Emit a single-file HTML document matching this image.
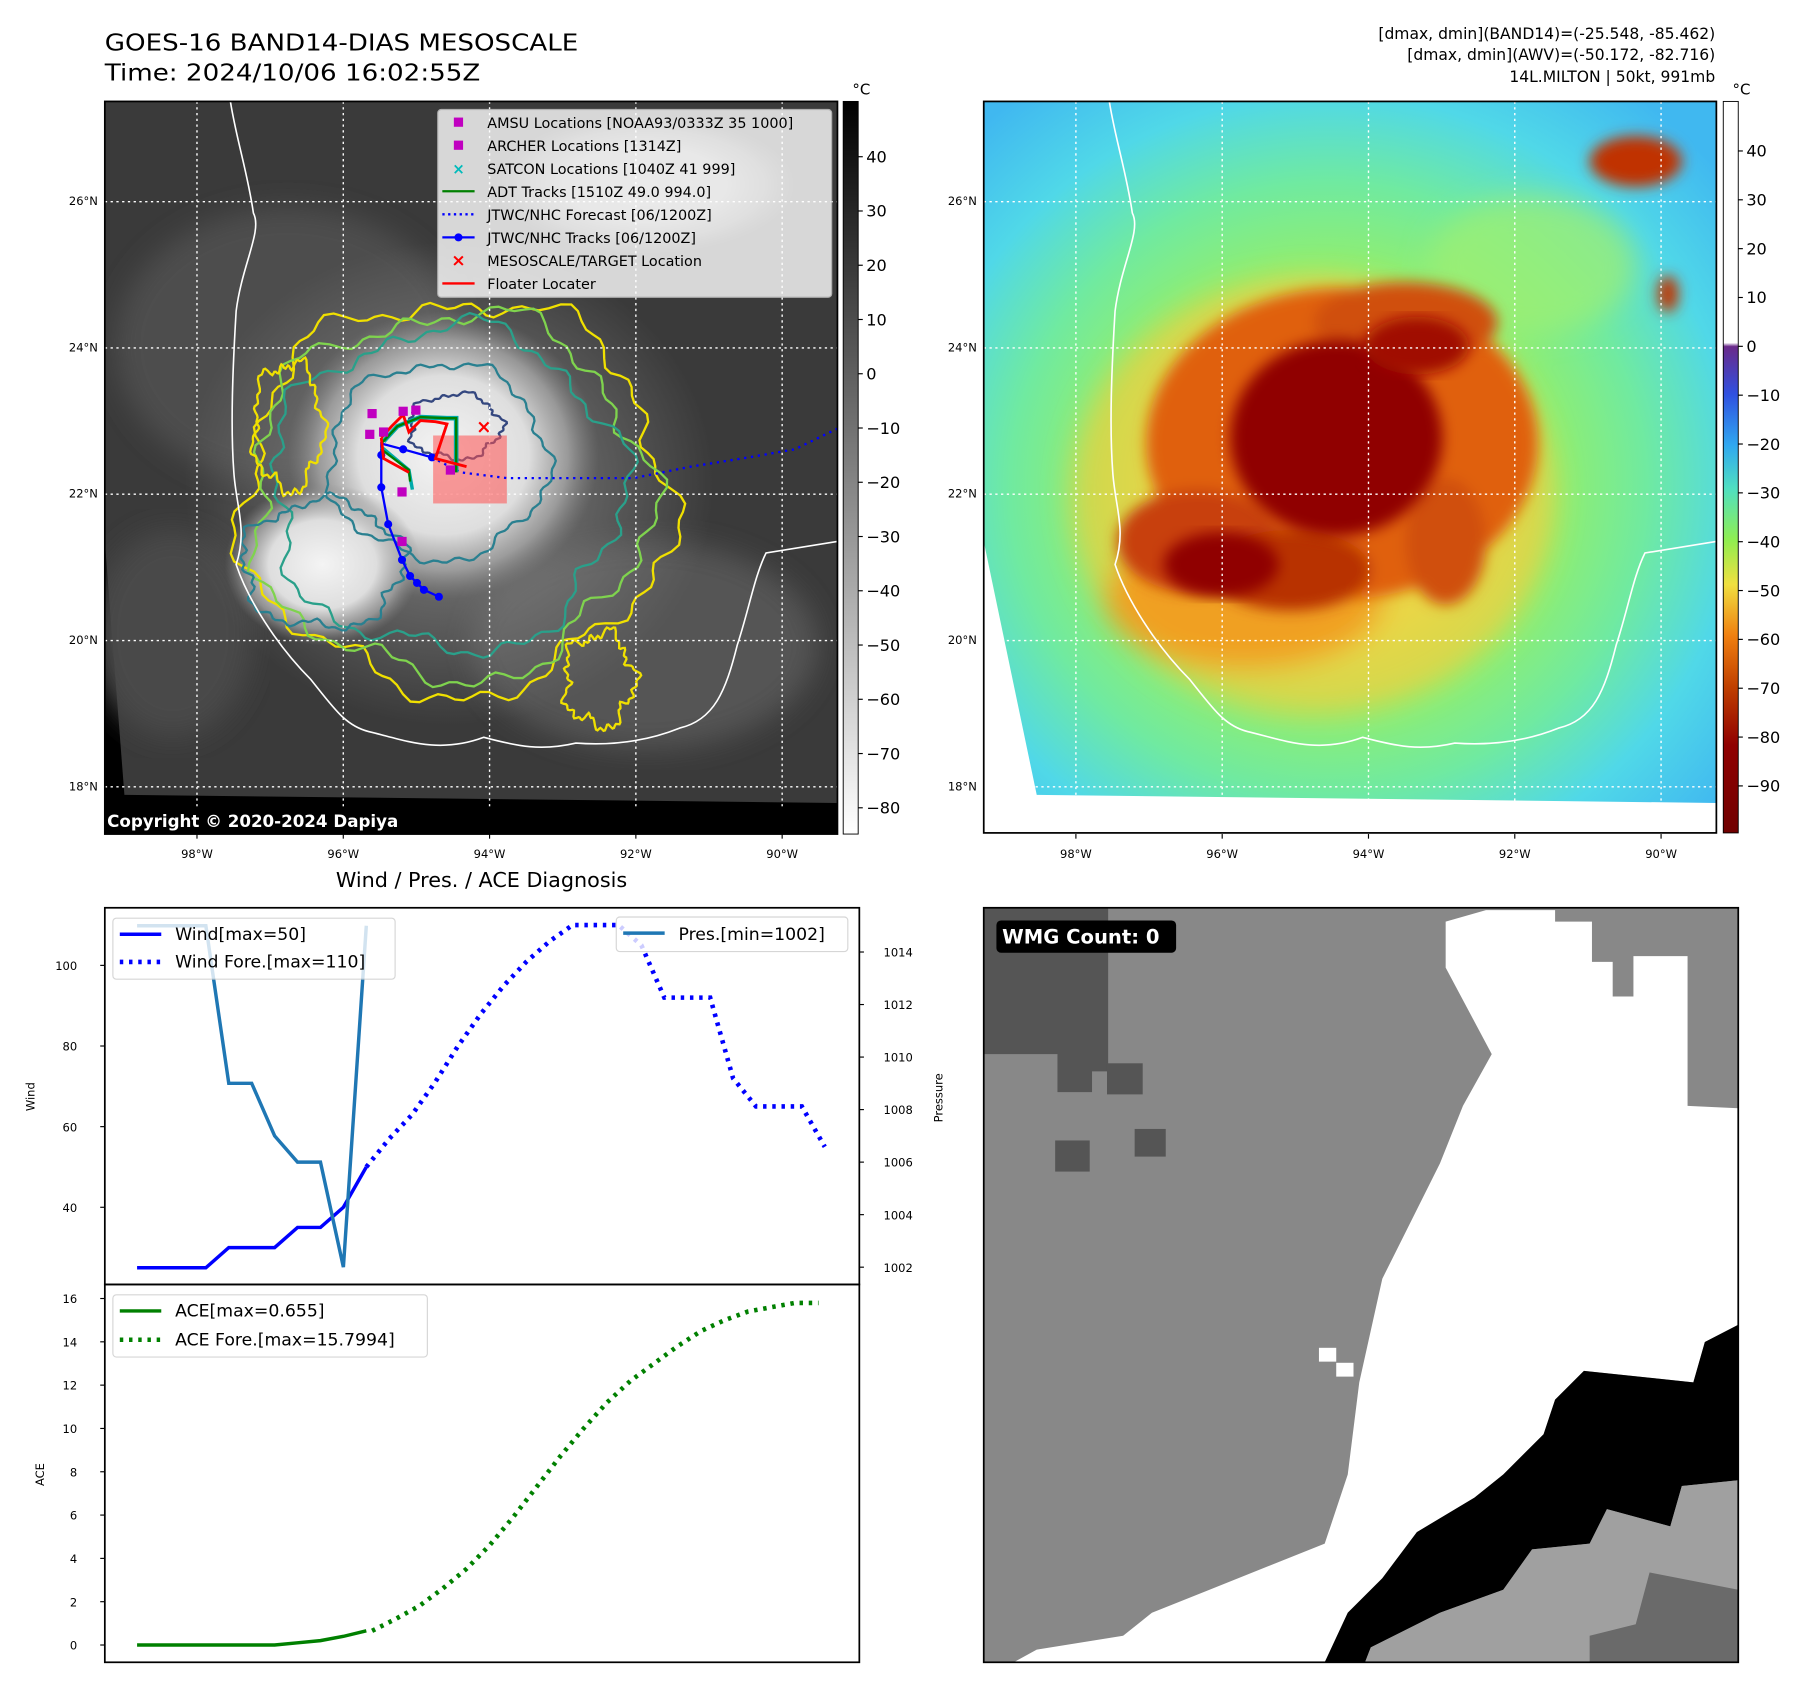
<!DOCTYPE html>
<html><head><meta charset="utf-8"><style>
html,body{margin:0;padding:0;background:#fff}
svg{display:block}
text{font-family:"DejaVu Sans","Liberation Sans",sans-serif}
</style></head><body>
<svg id="root" xmlns="http://www.w3.org/2000/svg" width="1797" height="1690" viewBox="0 0 1560 1467">
<defs>
<clipPath id="clipL"><rect x="91" y="88" width="636" height="636"/></clipPath>
<clipPath id="clipR"><rect x="854" y="88" width="636" height="635"/></clipPath>
<clipPath id="clipB"><rect x="854" y="788" width="655" height="655"/></clipPath>
<radialGradient id="cloud1"><stop offset="0" stop-color="#f4f4f4"/><stop offset="0.55" stop-color="#dedede"/><stop offset="0.8" stop-color="#b0b0b0" stop-opacity="0.7"/><stop offset="1" stop-color="#888" stop-opacity="0"/></radialGradient>
<radialGradient id="cloudWide"><stop offset="0" stop-color="#8a8a8a"/><stop offset="1" stop-color="#8a8a8a" stop-opacity="0"/></radialGradient>
<radialGradient id="rbg" cx="0.47" cy="0.55" r="0.7"><stop offset="0" stop-color="#f0c030"/><stop offset="0.3" stop-color="#e8e858"/><stop offset="0.45" stop-color="#90ee70"/><stop offset="0.62" stop-color="#70eaa0"/><stop offset="0.8" stop-color="#50d8e8"/><stop offset="1" stop-color="#40b8f0"/></radialGradient>
<linearGradient id="cbL" x1="0" y1="0" x2="0" y2="1"><stop offset="0" stop-color="#000"/><stop offset="1" stop-color="#fff"/></linearGradient>
<linearGradient id="cbR" x1="0" y1="0" x2="0" y2="1">
<stop offset="0" stop-color="#fff"/><stop offset="0.33" stop-color="#fff"/><stop offset="0.335" stop-color="#6a2a8a"/><stop offset="0.4" stop-color="#3050e0"/><stop offset="0.47" stop-color="#30a8f0"/><stop offset="0.53" stop-color="#50e0c0"/><stop offset="0.6" stop-color="#90ee50"/><stop offset="0.66" stop-color="#f0e040"/><stop offset="0.73" stop-color="#f08010"/><stop offset="0.8" stop-color="#c04000"/><stop offset="0.88" stop-color="#900000"/><stop offset="1" stop-color="#700000"/></linearGradient>
<filter id="blur6"><feGaussianBlur stdDeviation="6"/></filter>
<filter id="blur12"><feGaussianBlur stdDeviation="12"/></filter>
</defs>

<!-- titles -->
<text x="91" y="44" font-size="20" textLength="411" lengthAdjust="spacingAndGlyphs">GOES-16 BAND14-DIAS MESOSCALE</text>
<text x="91" y="70" font-size="20" textLength="326" lengthAdjust="spacingAndGlyphs">Time: 2024/10/06 16:02:55Z</text>
<g font-size="13.5" text-anchor="end">
<text x="1489" y="34">[dmax, dmin](BAND14)=(-25.548, -85.462)</text>
<text x="1489" y="52">[dmax, dmin](AWV)=(-50.172, -82.716)</text>
<text x="1489" y="71">14L.MILTON | 50kt, 991mb</text>
</g>

<!-- LEFT MAP -->
<g id="leftmap" clip-path="url(#clipL)">
<rect x="91" y="88" width="636" height="636" fill="#000"/>
<polygon points="91,88 727,88 727,697 108,690 91,470" fill="#3a3a3a"/>
<ellipse cx="250" cy="300" rx="150" ry="120" fill="#4e4e4e" filter="url(#blur12)"/>
<ellipse cx="560" cy="560" rx="150" ry="90" fill="#555" filter="url(#blur12)"/>
<ellipse cx="150" cy="550" rx="70" ry="90" fill="#4a4a4a" filter="url(#blur12)"/>
<ellipse cx="390" cy="420" rx="230" ry="210" fill="url(#cloudWide)"/>
<ellipse cx="385" cy="395" rx="135" ry="125" fill="url(#cloud1)"/>
<ellipse cx="280" cy="490" rx="85" ry="70" fill="url(#cloud1)"/>
<ellipse cx="560" cy="160" rx="130" ry="60" fill="url(#cloud1)" opacity="0.5"/>
<g id="contours" fill="none" stroke-width="2"></g>
<path d="M200,88 C205,120 215,150 220,185 C228,200 210,230 205,270 C202,320 200,370 203,410 C205,440 215,460 205,490 C215,520 240,560 270,590 C290,615 300,630 320,635 C350,642 380,655 420,640 C450,648 470,652 500,645 C540,648 570,640 590,632 C620,625 630,600 640,560 C650,530 655,500 665,480 L727,470" fill="none" stroke="#fff" stroke-width="1.4"/>
<g stroke="#fff" stroke-width="1.2" stroke-dasharray="2,3" id="gridL"></g>
<rect x="376" y="378" width="64" height="59" fill="#ff5050" opacity="0.55"/>
<polyline points="375,397 400,410 440,415 550,415 600,405 650,397 690,390 727,372" fill="none" stroke="#00f" stroke-width="2" stroke-dasharray="2,4"/>
<polyline points="375,397 350,390 331,385 331,395 331,423 337,455 349,486 356,500 362,506 368,512 381,518" fill="none" stroke="#00f" stroke-width="2"/>
<g fill="#00f"><circle cx="375" cy="397" r="3.5"/><circle cx="350" cy="390" r="3.5"/><circle cx="331" cy="395" r="3.5"/><circle cx="331" cy="423" r="3.5"/><circle cx="337" cy="455" r="3.5"/><circle cx="349" cy="486" r="3.5"/><circle cx="356" cy="500" r="3.5"/><circle cx="362" cy="506" r="3.5"/><circle cx="368" cy="512" r="3.5"/><circle cx="381" cy="518" r="3.5"/></g>
<polyline points="333,383 345,370 365,362 388,363 396,363 396,410" fill="none" stroke="#00aaaa" stroke-width="4"/>
<polyline points="331,385 345,370 365,362 388,363 396,363 396,410" fill="none" stroke="#008000" stroke-width="2"/>
<polyline points="331,388 355,408 358,425" fill="none" stroke="#00aaaa" stroke-width="3"/>
<polyline points="331,390 355,408 356,418" fill="none" stroke="#008000" stroke-width="2"/>
<polyline points="331,380 340,370 350,360 355,375 365,365 378,366 388,368 378,398 405,405" fill="none" stroke="#f00" stroke-width="2.5"/>
<polyline points="331,380 333,398 355,410" fill="none" stroke="#f00" stroke-width="2.5"/>
<g fill="#c000c0"><rect x="319" y="355" width="8" height="8"/><rect x="346" y="353" width="8" height="8"/><rect x="357" y="352" width="8" height="8"/><rect x="317" y="373" width="8" height="8"/><rect x="329" y="371" width="8" height="8"/><rect x="387" y="404" width="8" height="8"/><rect x="345" y="423" width="8" height="8"/><rect x="345" y="466" width="8" height="8"/></g>
<text x="420" y="376" fill="#f00" font-size="16" font-weight="bold" text-anchor="middle">×</text>
<!-- legend -->
<g>
<rect x="380" y="95" width="342" height="163" fill="#fff" opacity="0.8" stroke="#ccc" rx="3"/>
<g font-size="12.5" fill="#000">
<rect x="394" y="102" width="8" height="8" fill="#c000c0"/><text x="423" y="111">AMSU Locations [NOAA93/0333Z 35 1000]</text>
<rect x="394" y="122" width="8" height="8" fill="#c000c0"/><text x="423" y="131">ARCHER Locations [1314Z]</text>
<text x="398" y="151" fill="#00bbbb" font-size="13" text-anchor="middle" font-weight="bold">×</text><text x="423" y="151">SATCON Locations [1040Z 41 999]</text>
<line x1="384" y1="166" x2="412" y2="166" stroke="#008000" stroke-width="2"/><text x="423" y="171">ADT Tracks [1510Z 49.0 994.0]</text>
<line x1="384" y1="186" x2="412" y2="186" stroke="#00f" stroke-width="2" stroke-dasharray="2,3"/><text x="423" y="191">JTWC/NHC Forecast [06/1200Z]</text>
<line x1="384" y1="206" x2="412" y2="206" stroke="#00f" stroke-width="2"/><circle cx="398" cy="206" r="3.5" fill="#00f"/><text x="423" y="211">JTWC/NHC Tracks [06/1200Z]</text>
<text x="398" y="231" fill="#f00" font-size="15" text-anchor="middle" font-weight="bold">×</text><text x="423" y="231">MESOSCALE/TARGET Location</text>
<line x1="384" y1="246" x2="412" y2="246" stroke="#f00" stroke-width="2"/><text x="423" y="251">Floater Locater</text>
</g></g>
<rect x="91" y="700" width="636" height="24" fill="#000"/>
<text x="93" y="718" fill="#fff" font-size="14.5" font-weight="bold">Copyright © 2020-2024 Dapiya</text>
</g>
<rect x="91" y="88" width="636" height="636" fill="none" stroke="#000" stroke-width="1.5"/>
<rect x="732" y="88" width="13" height="636" fill="url(#cbL)" stroke="#000" stroke-width="0.8"/>
<text x="740" y="82" font-size="13">°C</text>
<g id="cbLticks" font-size="14"></g>

<!-- RIGHT MAP -->
<g clip-path="url(#clipR)">
<rect x="854" y="88" width="636" height="635" fill="#fff"/>
<polygon points="854,88 1490,88 1490,697 900,690 854,470" fill="url(#rbg)"/>
<g filter="url(#blur12)">
<ellipse cx="1330" cy="230" rx="90" ry="60" fill="#a0f070" opacity="0.7"/>
<ellipse cx="1140" cy="430" rx="210" ry="190" fill="#e8d040" opacity="0.75"/>
<ellipse cx="1080" cy="520" rx="120" ry="60" fill="#f0a020"/>
</g>
<g filter="url(#blur6)">
<ellipse cx="1165" cy="385" rx="170" ry="135" fill="#e06010"/>
<ellipse cx="1220" cy="280" rx="80" ry="35" fill="#d05008"/>
<ellipse cx="1040" cy="470" rx="70" ry="45" fill="#c84008"/>
<ellipse cx="1120" cy="495" rx="70" ry="35" fill="#b83000"/>
<ellipse cx="1255" cy="470" rx="35" ry="55" fill="#d05008"/>
<ellipse cx="1420" cy="140" rx="40" ry="22" fill="#c03000"/>
<ellipse cx="1448" cy="255" rx="9" ry="16" fill="#c03000"/>
</g>
<ellipse cx="1160" cy="380" rx="92" ry="85" fill="#900000" filter="url(#blur6)"/>
<ellipse cx="1060" cy="490" rx="50" ry="28" fill="#900000" filter="url(#blur6)"/>
<ellipse cx="1230" cy="300" rx="45" ry="25" fill="#a01000" filter="url(#blur6)"/>
<path d="M963,88 C968,120 978,150 983,185 C991,200 973,230 968,270 C965,320 963,370 966,410 C968,440 978,460 968,490 C978,520 1003,560 1033,590 C1053,615 1063,630 1083,635 C1113,642 1143,655 1183,640 C1213,648 1233,652 1263,645 C1303,648 1333,640 1353,632 C1383,625 1393,600 1403,560 C1413,530 1418,500 1428,480 L1490,470" fill="none" stroke="#fff" stroke-width="1.4"/>
<g stroke="#fff" stroke-width="1.2" stroke-dasharray="2,3" id="gridR"></g>
</g>
<rect x="854" y="88" width="636" height="635" fill="none" stroke="#000" stroke-width="1.5"/>
<rect x="1496" y="88" width="13" height="635" fill="url(#cbR)" stroke="#000" stroke-width="0.8"/>
<text x="1504" y="82" font-size="13">°C</text>
<g id="cbRticks" font-size="14"></g>
<g id="mapTicks" font-size="10"></g>

<!-- WIND / PRES CHART -->
<text x="418" y="770" font-size="18" text-anchor="middle">Wind / Pres. / ACE Diagnosis</text>
<rect x="91" y="788" width="655" height="327" fill="#fff" stroke="#000" stroke-width="1.5"/>
<g id="windChart"></g>
<rect x="91" y="1115" width="655" height="328" fill="none" stroke="#000" stroke-width="1.5"/>
<g id="aceChart"></g>
<text transform="translate(30,952) rotate(-90)" font-size="10" text-anchor="middle">Wind</text>
<text transform="translate(818,953) rotate(-90)" font-size="10" text-anchor="middle">Pressure</text>
<text transform="translate(38,1280) rotate(-90)" font-size="10" text-anchor="middle">ACE</text>

<!-- WMG panel -->
<g clip-path="url(#clipB)">
<rect x="854" y="788" width="655" height="655" fill="#888"/>
<polygon points="1255,800 1290,790 1350,790 1350,800 1382,800 1382,835 1400,835 1400,865 1418,865 1418,830 1465,830 1465,960 1509,962 1509,1150 1480,1165 1470,1200 1375,1190 1350,1215 1340,1245 1305,1280 1280,1300 1230,1330 1200,1370 1170,1400 1150,1443 880,1443 900,1432 975,1420 1000,1400 1050,1380 1100,1360 1150,1340 1170,1280 1180,1200 1200,1110 1225,1060 1250,1010 1270,960 1295,915 1255,840" fill="#fff"/>
<polygon points="1509,1150 1509,1285 1460,1290 1450,1325 1395,1310 1380,1340 1330,1345 1305,1380 1250,1400 1190,1430 1185,1443 1150,1443 1170,1400 1200,1370 1230,1330 1280,1300 1305,1280 1340,1245 1350,1215 1375,1190 1470,1200 1480,1165" fill="#000"/>
<polygon points="1509,1285 1509,1443 1185,1443 1190,1430 1250,1400 1305,1380 1330,1345 1380,1340 1395,1310 1450,1325 1460,1290" fill="#a0a0a0"/>
<polygon points="1432,1365 1509,1380 1509,1443 1380,1443 1380,1420 1420,1410" fill="#6a6a6a"/>
<polygon points="854,788 962,788 962,930 948,930 948,948 918,948 918,915 854,915" fill="#555"/>
<rect x="961" y="923" width="31" height="27" fill="#555"/>
<rect x="916" y="990" width="30" height="27" fill="#555"/>
<rect x="985" y="980" width="27" height="24" fill="#555"/>
<rect x="1145" y="1170" width="15" height="12" fill="#fff"/><rect x="1160" y="1183" width="15" height="12" fill="#fff"/>
</g>
<rect x="854" y="788" width="655" height="655" fill="none" stroke="#000" stroke-width="1.5"/>
<rect x="865" y="799" width="156" height="28" rx="4" fill="#000"/>
<text x="870" y="819" fill="#fff" font-size="17" font-weight="bold">WMG Count: 0</text>
</svg>

<script>
// ---- chart data ----
const windObs = [25,25,25,25,30,30,30,35,35,40,50];
const windFore = [50,57,63,71,80,88,95,101,106,110,110,110,105,92,92,92,72,65,65,65,55];
const presObs = [1015,1015,1015,1015,1009,1009,1007,1006,1006,1002,1015];
const aceObs = [0,0,0,0,0,0,0,0.1,0.2,0.4,0.655];
const aceFore = [0.655,1.2,1.8,2.6,3.5,4.6,5.9,7.3,8.7,10.0,11.2,12.2,13.0,13.8,14.5,15.0,15.4,15.6,15.8,15.8];
const windTicks = [40,60,80,100];
const presTicks = [1002,1004,1006,1008,1010,1012,1014];
const aceTicks = [0,2,4,6,8,10,12,14,16];
const lonTicks = ["98°W","96°W","94°W","92°W","90°W"];
const latTicks = ["26°N","24°N","22°N","20°N","18°N"];
const cbLTicks = [40,30,20,10,0,-10,-20,-30,-40,-50,-60,-70,-80];
const cbRTicks = [40,30,20,10,0,-10,-20,-30,-40,-50,-60,-70,-80,-90];

const NS='http://www.w3.org/2000/svg';
function mk(tag, attrs, parent){const e=document.createElementNS(NS,tag);for(const k in attrs)e.setAttribute(k,attrs[k]);parent.appendChild(e);return e;}
const xIdx = i => 119 + 19.9*i;
const yWind = v => 1048 - (v-40)*3.5;
const yPres = p => 1100 - (p-1002)*22.8;
const yAce = a => 1428 - a*18.8;
const lonX = i => 171 + 127*i;
const latY = i => 175 + 127*i;

// map ticks & grids
const mt=document.getElementById('mapTicks');
lonTicks.forEach((t,i)=>{
  [0,763].forEach(off=>{
    const tx=mk('text',{x:lonX(i)+off,y:745,'text-anchor':'middle'},mt); tx.textContent=t;
    
    
    mk('line',{x1:lonX(i)+off,y1:724,x2:lonX(i)+off,y2:728,stroke:'#000'},mt);
  });
  mk('line',{x1:lonX(i),y1:88,x2:lonX(i),y2:724},document.getElementById('gridL'));
  mk('line',{x1:lonX(i)+763,y1:88,x2:lonX(i)+763,y2:724},document.getElementById('gridR'));
});
latTicks.forEach((t,i)=>{
  [0,763].forEach(off=>{
    const tx=mk('text',{x:85+off,y:latY(i)+3,'text-anchor':'end'},mt); tx.textContent=t;
    
    
  });
  mk('line',{x1:91,y1:latY(i),x2:727,y2:latY(i)},document.getElementById('gridL'));
  mk('line',{x1:854,y1:latY(i),x2:1490,y2:latY(i)},document.getElementById('gridR'));
});
// colorbar ticks
const cl=document.getElementById('cbLticks');
cbLTicks.forEach((v,i)=>{const y=136+47.1*i;
  mk('line',{x1:745,y1:y,x2:749,y2:y,stroke:'#000'},cl);
  const t=mk('text',{x:752,y:y+5},cl);t.textContent=String(v).replace('-','−');
  
  });
const cr=document.getElementById('cbRticks');
cbRTicks.forEach((v,i)=>{const y=131+42.4*i;
  mk('line',{x1:1509,y1:y,x2:1513,y2:y,stroke:'#000'},cr);
  const t=mk('text',{x:1516,y:y+5},cr);t.textContent=String(v).replace('-','−');
  
  });

// contours (decorative wobbly rings)
const cg=document.getElementById('contours');
function blob(cx,cy,rx,ry,ph,amp){let d='';for(let k=0;k<=160;k++){const t=k/160*Math.PI*2;
 const r=1+amp*(Math.sin(5*t+ph)*0.5+Math.sin(11*t+2*ph)*0.3+Math.sin(29*t+ph*3)*0.2);
 d+=(k?'L':'M')+(cx+rx*r*Math.cos(t)).toFixed(1)+','+(cy+ry*r*Math.sin(t)).toFixed(1);}return d+'Z';}
[[395,430,185,170,0.3,'#f0e000',0.12],[390,430,172,158,1.2,'#7fd34e',0.12],[388,425,152,140,2.1,'#2aa08a',0.12],[380,400,95,85,0.7,'#2a8090',0.1],[395,370,40,28,1.5,'#34477f',0.15],[280,490,70,55,2.5,'#2a8090',0.15],[250,370,30,55,0.9,'#f0e000',0.2],[520,590,30,40,1.4,'#f0e000',0.25]].forEach(c=>{
 const p=mk('path',{d:blob(c[0],c[1],c[2],c[3],c[4],c[6]),stroke:c[5]},cg);
 
 });

// wind / pressure chart
const wc=document.getElementById('windChart');
windTicks.forEach(v=>{mk('line',{x1:87,y1:yWind(v),x2:91,y2:yWind(v),stroke:'#000'},wc);
 const t=mk('text',{x:67,y:yWind(v)+4,'font-size':'10','text-anchor':'end'},wc);t.textContent=v;
 
 });
presTicks.forEach(v=>{mk('line',{x1:746,y1:yPres(v),x2:750,y2:yPres(v),stroke:'#000'},wc);
 const t=mk('text',{x:767,y:yPres(v)+4,'font-size':'10'},wc);t.textContent=v;
 
 });
const pl=(arr,off,fx,fy)=>arr.map((v,i)=>fx(i+off).toFixed(1)+','+fy(v).toFixed(1)).join(' ');
let e;
e=mk('polyline',{points:pl(windFore,10,xIdx,yWind),fill:'none',stroke:'#00f','stroke-width':4,'stroke-dasharray':'3,5'},wc);


e=mk('polyline',{points:pl(windObs,0,xIdx,yWind),fill:'none',stroke:'#00f','stroke-width':3},wc);


e=mk('polyline',{points:pl(presObs,0,xIdx,yPres),fill:'none',stroke:'#1f77b4','stroke-width':3},wc);


// legends
e=mk('g',{},wc);


mk('rect',{x:98,y:797,width:245,height:53,fill:'#fff',opacity:0.8,stroke:'#ccc',rx:3},e);
mk('line',{x1:104,y1:811,x2:140,y2:811,stroke:'#00f','stroke-width':3},e);
mk('text',{x:152,y:816,'font-size':15},e).textContent='Wind[max=50]';
mk('line',{x1:104,y1:835,x2:140,y2:835,stroke:'#00f','stroke-width':4,'stroke-dasharray':'3,5'},e);
mk('text',{x:152,y:840,'font-size':15},e).textContent='Wind Fore.[max=110]';
e=mk('g',{},wc);


mk('rect',{x:535,y:796,width:201,height:30,fill:'#fff',opacity:0.8,stroke:'#ccc',rx:3},e);
mk('line',{x1:541,y1:810,x2:577,y2:810,stroke:'#1f77b4','stroke-width':3},e);
mk('text',{x:589,y:816,'font-size':15},e).textContent='Pres.[min=1002]';

// ACE chart
const ac=document.getElementById('aceChart');
aceTicks.forEach(v=>{mk('line',{x1:87,y1:yAce(v),x2:91,y2:yAce(v),stroke:'#000'},ac);
 const t=mk('text',{x:67,y:yAce(v)+4,'font-size':'10','text-anchor':'end'},ac);t.textContent=v;
 
 });
const xAce = i => 119 + 20.4*i;
e=mk('polyline',{points:pl(aceFore,10,xAce,yAce),fill:'none',stroke:'#008000','stroke-width':4,'stroke-dasharray':'3,5'},ac);


e=mk('polyline',{points:pl(aceObs,0,xIdx,yAce),fill:'none',stroke:'#008000','stroke-width':3},ac);


e=mk('g',{},ac);


mk('rect',{x:98,y:1124,width:273,height:54,fill:'#fff',opacity:0.8,stroke:'#ccc',rx:3},e);
mk('line',{x1:104,y1:1138,x2:140,y2:1138,stroke:'#008000','stroke-width':3},e);
mk('text',{x:152,y:1143,'font-size':15},e).textContent='ACE[max=0.655]';
mk('line',{x1:104,y1:1163,x2:140,y2:1163,stroke:'#008000','stroke-width':4,'stroke-dasharray':'3,5'},e);
mk('text',{x:152,y:1168,'font-size':15},e).textContent='ACE Fore.[max=15.7994]';
</script>
</body></html>
